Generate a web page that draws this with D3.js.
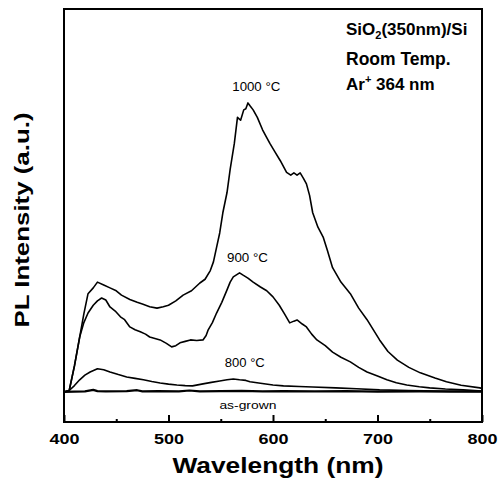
<!DOCTYPE html>
<html>
<head>
<meta charset="utf-8">
<script src="https://cdn.jsdelivr.net/npm/d3@7"></script>
<style>
  body { margin: 0; background: #fff; }
  svg text { font-family: "Liberation Sans", Arial, sans-serif; fill: #000; }
</style>
</head>
<body>
<div id="plot"></div>
<script>
// wavelength (nm) / PL intensity (a.u., peak of 1000 C = 100)
const wl1000 = [400,405,410,415,419,423,428,432,438,444,450,455,463,470,475,482,489,495,500,507,514,522,530,535,540,543,546,549,552,556,559,563,566,569,572,574,576,578,581,585,590,594,597,602,607,613,617,620,623,626,629,632,635,638,643,648,652,657,665,674,682,690,702,710,719,730,741,755,766,780,798,800];
const pl1000 = [0,0.5,9,19,27,34,36,38,37,36,35,33.5,32,31,30.4,29.5,29,29.5,30,31.5,33.5,35,37.7,39,42,45,50,55,62,69,77,86,95,94,97.6,98,100,99,97.6,95,90.7,88,86,83,80,76,75,75.8,75,75.8,74,72,68,62,57,53.6,49,43,38,34,29,25,18,14,11,8.5,6.6,4.8,3.5,2.3,1.4,1.2];

const wl900 = [400,405,410,415,419,423,428,432,436,440,444,449,454,458,463,468,473,478,482,487,492,498,503,507,511,516,521,527,533,536,538,542,546,551,556,559,562,565,568,571,576,581,588,594,600,606,611,616,620,623,628,632,637,642,650,657,665,674,682,690,700,709,718,728,740,750,765,782,800];
const pl900 = [0,0.5,9,19,24,27.3,30,31.5,32.5,31.8,29.4,28,26,25,22.5,21.5,20.8,20,19,18.5,18,16.8,15.6,16,17,17.5,18,17.8,18,19.5,21.5,24,27.3,31,35.3,38,39.8,40.5,41.2,40.5,39.4,38,36.3,35,32.9,30,27,23.9,24.5,24.9,23.5,22.5,20,18,16,13.8,12,10.4,8.5,6.9,5.5,4.2,3.2,2.4,1.8,1.4,1,0.7,0.3];

const wl800 = [400,405,410,415,420,425,432,438,444,452,460,468,476,484,492,500,508,516,523,533,541,549,556,562,568,574,578,588,600,610,625,638,660,680,702,730,760,800];
const pl800 = [0,0.5,2.2,4.2,5.8,6.9,8,7.7,6.9,6,5.2,4.7,4.2,3.6,3.1,2.7,2.4,2.2,2.1,2.8,3.3,3.8,4.2,4.5,4.2,4,3.5,3,2.4,2.1,1.9,1.7,1.4,1.1,0.7,0.5,0.3,0.2];

const wlAsGrown = [400,420,428,432,440,460,470,475,490,510,520,530,550,570,590,610,640,670,700,740,770,800];
const plAsGrown = [0,0.2,0.7,0.3,0.2,0.3,0.6,0.2,0.3,0.2,0.5,0.2,0.3,0.4,0.2,0.3,0.2,0.3,0.1,0.2,0.1,0.1];

const xTicks = [400, 500, 600, 700, 800];
const xMinorTicks = [450, 550, 650, 750];
const curveLabels = ["1000 \u00b0C", "900 \u00b0C", "800 \u00b0C", "as-grown"];

const w = 499;
const h = 483;
const padLeft = 64, padRight = 482, padTop = 9, padBottom = 422;

const xScale = d3.scaleLinear().domain([400, 800]).range([padLeft, padRight]);
const yScale = d3.scaleLinear().domain([-10.4, 132.5]).range([padBottom, padTop]);

const svg = d3.select("#plot").append("svg")
  .attr("width", w)
  .attr("height", h);

const line = d3.line()
  .x(d => xScale(d[0]))
  .y(d => yScale(d[1]));

const series = [
  [wl1000, pl1000],
  [wl900, pl900],
  [wl800, pl800],
  [wlAsGrown, plAsGrown]
];

series.forEach((s, i) => {
  svg.append("path")
    .datum(s[0].map((v, j) => [v, s[1][j]]))
    .attr("fill", "none")
    .attr("stroke", "#000")
    .attr("stroke-width", i == 3 ? 2.2 : 1.6)
    .attr("stroke-linejoin", "round")
    .attr("d", line);
});

//-------------------frame and axis---------------------------
svg.append("rect")
  .attr("x", padLeft).attr("y", padTop)
  .attr("width", padRight - padLeft).attr("height", padBottom - padTop)
  .attr("fill", "none").attr("stroke", "#000").attr("stroke-width", 2);

const xAxis = d3.axisBottom(xScale).tickValues(xTicks).tickSize(-7).tickPadding(11).tickFormat(d3.format("d"));
const gx = svg.append("g")
  .attr("transform", "translate(0," + padBottom + ")")
  .call(xAxis);
gx.select(".domain").remove();
gx.selectAll("line").attr("stroke-width", 2);
gx.selectAll("text")
  .style("font-family", "'Liberation Sans', Arial, sans-serif")
  .style("font-size", "15px")
  .style("font-weight", "bold")
  .attr("textLength", 30)
  .attr("lengthAdjust", "spacingAndGlyphs");

const xMinor = d3.axisBottom(xScale).tickValues(xMinorTicks).tickSize(-3).tickFormat("");
const gm = svg.append("g")
  .attr("transform", "translate(0," + padBottom + ")")
  .call(xMinor);
gm.select(".domain").remove();
gm.selectAll("line").attr("stroke-width", 2);

svg.append("text")
  .attr("x", (padLeft + padRight) / 2 + 5)
  .attr("y", 473)
  .attr("text-anchor", "middle")
  .attr("font-size", 22)
  .attr("font-weight", "bold")
  .attr("textLength", 211)
  .attr("lengthAdjust", "spacingAndGlyphs")
  .text("Wavelength (nm)");

svg.append("text")
  .attr("transform", "translate(29,220) rotate(-90)")
  .attr("text-anchor", "middle")
  .attr("font-size", 21)
  .attr("font-weight", "bold")
  .attr("textLength", 215)
  .attr("lengthAdjust", "spacingAndGlyphs")
  .text("PL Intensity (a.u.)");

//--------------------curve labels---------------------------
const labelAt = [[584, 91, 48], [575.6, 262, 41], [573, 367, 40], [576, 409, 57]];
curveLabels.forEach((t, i) => {
  svg.append("text")
    .attr("x", xScale(labelAt[i][0]))
    .attr("y", labelAt[i][1])
    .attr("text-anchor", "middle")
    .attr("font-size", i == 3 ? 11 : 12)
    .attr("textLength", labelAt[i][2])
    .attr("lengthAdjust", "spacingAndGlyphs")
    .text(t);
});

//--------------------conditions---------------------------
const note = svg.append("g").attr("font-weight", "bold");
const t1 = note.append("text").attr("x", 346).attr("y", 35).attr("font-size", 17);
t1.append("tspan").text("SiO");
t1.append("tspan").attr("font-size", 11).attr("dy", 4).text("2");
t1.append("tspan").attr("dy", -4).text("(350nm)/Si");
note.append("text").attr("x", 346).attr("y", 65).attr("font-size", 17.5).text("Room Temp.");
const t3 = note.append("text").attr("x", 346).attr("y", 90).attr("font-size", 17);
t3.append("tspan").text("Ar");
t3.append("tspan").attr("font-size", 11).attr("dy", -7).text("+");
t3.append("tspan").attr("x", 376).attr("dy", 7).text("364 nm");
</script>
</body>
</html>
